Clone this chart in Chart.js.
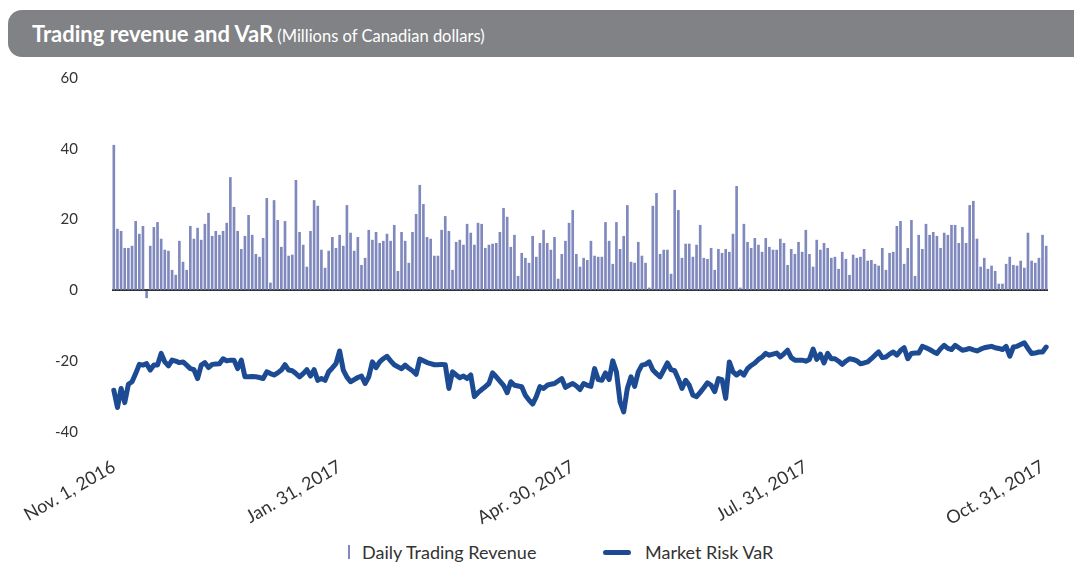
<!DOCTYPE html>
<html>
<head>
<meta charset="utf-8">
<script src="https://cdn.jsdelivr.net/npm/chart.js@4"></script>
<style>
  html, body { margin: 0; padding: 0; background: #fff; overflow: hidden; }
  body { width: 1074px; height: 563px; position: relative; font-family: Lato, "Open Sans", sans-serif; color: #333; }
  .header {
    position: absolute; left: 8px; top: 10px; width: 1090px; height: 47px;
    background: #808285; border-radius: 14px 0 0 14px;
    color: #fff; box-sizing: border-box; padding-left: 24px; line-height: 47px;
  }
  .header b { font-size: 22px; font-weight: 700; }
  .header span { font-size: 16.5px; }
  .chart-box { position: absolute; left: 0; top: 35px; width: 1074px; height: 495px; }
  .legend { position: absolute; top: 540px; left: 0; width: 1074px; height: 24px; font-size: 18px; }
  .legend .mark-bar { position: absolute; left: 348px; top: 5px; width: 2px; height: 14px; background: #8089be; }
  .legend .mark-line { position: absolute; left: 603px; top: 10px; width: 28px; height: 5px; border-radius: 3px; background: #1c4b93; }
  .legend .txt { position: absolute; top: 0; line-height: 24px; }
</style>
</head>
<body>
<div class="header"><b>Trading revenue and VaR</b> <span>(Millions of Canadian dollars)</span></div>
<div class="chart-box"><canvas id="tradingChart"></canvas></div>
<div class="legend">
  <div class="mark-bar"></div><div class="txt" style="left:362px">Daily Trading Revenue</div>
  <div class="mark-line"></div><div class="txt" style="left:645px">Market Risk VaR</div>
</div>
<script>
// Daily trading revenue, one value per trading day (millions CAD)
const revenue = [
    41, 17.3, 16.7, 11.9, 11.9, 12.5, 19.5, 15.9, 18.1, -2.1,
    12.5, 17.8, 19.2, 14.5, 11.4, 11.1, 5.7, 4.3, 13.9, 8.0,
    5.7, 18.1, 14.5, 17.6, 14.2, 18.7, 21.8, 15.3, 16.7, 15.6,
    16.7, 19.0, 31.9, 23.5, 16.7, 11.6, 15.3, 21.2, 15.6, 10.2,
    9.4, 14.7, 26.0, 2.1, 25.4, 19.8, 12.2, 19.5, 9.7, 10.0,
    31.1, 16.4, 12.8, 6.6, 16.7, 25.4, 23.8, 11.4, 6.3, 11.1,
    15.0, 11.9, 15.6, 12.5, 24.0, 16.2, 11.1, 15.0, 7.1, 9.1,
    17.0, 14.2, 16.4, 13.3, 13.9, 15.9, 13.9, 18.4, 5.4, 16.4,
    13.9, 7.7, 16.4, 21.5, 29.7, 24.3, 15.0, 14.5, 9.7, 9.7,
    17.0, 20.9, 16.7, 5.7, 13.6, 14.2, 12.8, 18.7, 16.2, 12.8,
    19.0, 18.7, 11.9, 12.8, 13.1, 13.3, 16.4, 23.2, 20.7, 12.2,
    15.6, 4.0, 10.5, 9.1, 7.7, 15.3, 9.4, 13.3, 17.0, 13.3,
    11.4, 15.0, 3.2, 10.2, 13.9, 19.0, 22.6, 10.2, 6.6, 9.1,
    8.5, 13.9, 9.7, 9.4, 9.4, 19.2, 13.9, 7.4, 19.2, 11.6,
    15.3, 24.0, 8.0, 7.7, 13.6, 9.7, 7.7, 0.7, 23.8, 27.4,
    10.2, 11.4, 11.4, 4.6, 28.3, 22.6, 9.1, 13.1, 13.1, 9.4,
    12.8, 18.4, 9.1, 8.8, 11.9, 5.7, 11.6, 10.5, 11.6, 10.8,
    15.9, 29.4, 0.7, 18.7, 13.6, 11.9, 14.7, 12.8, 10.8, 14.7,
    12.2, 11.4, 11.4, 14.5, 13.3, 7.1, 11.6, 10.2, 13.6, 10.8,
    17.0, 10.2, 6.6, 14.2, 11.4, 13.3, 11.9, 9.1, 9.4, 6.0,
    10.8, 8.8, 4.3, 10.0, 9.1, 9.4, 11.6, 8.3, 8.5, 7.4,
    6.9, 11.9, 5.7, 10.5, 10.8, 18.1, 19.5, 7.4, 11.9, 19.8,
    4.0, 15.6, 11.6, 18.7, 15.6, 16.4, 15.3, 11.9, 16.2, 15.6,
    18.4, 18.4, 13.3, 17.8, 13.3, 24.0, 25.2, 14.5, 6.6, 9.1,
    6.0, 6.9, 5.4, 1.8, 1.8, 7.4, 9.4, 7.1, 6.9, 8.3,
    6.3, 16.2, 8.3, 7.7, 9.1, 15.6, 12.5
];

// Market risk VaR, same trading days
const marketVaR = [
    -28.2, -33.1, -27.7, -31.7, -26.5, -25.8, -23.5, -20.9, -21.1, -20.7,
    -22.5, -21.1, -21.1, -17.8, -20.2, -21.3, -19.7, -20.0, -20.4, -20.2,
    -21.1, -22.1, -22.4, -24.9, -21.1, -20.4, -21.8, -20.9, -20.8, -20.7,
    -19.3, -19.9, -19.7, -19.7, -22.1, -19.7, -24.4, -24.4, -24.3, -24.4,
    -24.6, -24.9, -23.0, -23.5, -23.9, -23.3, -22.5, -21.0, -22.5, -22.7,
    -23.5, -24.4, -23.5, -22.4, -24.2, -22.4, -25.4, -24.9, -25.4, -23.0,
    -21.9, -20.7, -17.1, -22.5, -24.5, -25.8, -25.2, -24.6, -24.2, -26.3,
    -24.4, -20.2, -21.8, -20.2, -19.3, -18.6, -19.9, -21.0, -21.6, -22.1,
    -21.1, -22.0, -22.7, -23.7, -19.4, -19.9, -20.4, -20.7, -21.0, -21.0,
    -20.9, -21.0, -27.7, -23.0, -23.9, -24.7, -24.2, -24.9, -23.9, -30.0,
    -28.9, -28.0, -27.2, -26.3, -23.3, -24.4, -25.6, -26.8, -28.9, -25.8,
    -26.8, -27.0, -27.2, -29.6, -31.0, -32.1, -30.0, -27.2, -27.7, -26.8,
    -26.5, -26.3, -25.6, -24.9, -27.4, -26.8, -26.3, -27.0, -28.0, -26.3,
    -26.8, -27.1, -22.1, -25.2, -25.4, -23.3, -25.2, -19.9, -23.0, -31.5,
    -34.3, -27.7, -24.4, -27.1, -23.0, -21.1, -20.9, -20.2, -22.5, -23.5,
    -24.4, -22.5, -20.5, -22.4, -22.7, -25.0, -27.7, -25.4, -26.8, -29.6,
    -30.0, -28.8, -27.5, -26.1, -26.8, -28.6, -24.9, -25.2, -30.5, -20.2,
    -23.0, -23.9, -23.0, -23.9, -22.1, -21.2, -20.5, -19.5, -18.8, -17.8,
    -18.3, -18.0, -17.7, -18.8, -17.9, -16.9, -19.0, -19.7, -19.7, -19.7,
    -20.0, -19.5, -16.6, -19.5, -18.0, -20.5, -17.8, -19.3, -19.3, -20.0,
    -20.9, -20.0, -19.3, -19.5, -19.9, -20.7, -20.5, -20.2, -19.3, -18.3,
    -17.4, -19.0, -18.8, -18.0, -17.4, -18.3, -17.0, -16.2, -19.3, -17.8,
    -17.7, -17.7, -15.8, -16.2, -16.7, -17.3, -17.8, -16.5, -15.5, -16.4,
    -16.7, -15.5, -16.2, -16.9, -16.7, -16.4, -16.8, -17.1, -16.6, -16.2,
    -16.0, -15.8, -16.2, -16.4, -16.7, -15.8, -18.6, -16.0, -15.8, -15.3,
    -14.8, -16.4, -17.8, -17.7, -17.4, -17.4, -16.0
];

// trading days (category axis) and the dates shown under the axis
const days = revenue.map((_, i) => i);
const tickIndex = [0, 62, 126, 190, 255];
const tickLabels = ['Nov. 1, 2016', 'Jan. 31, 2017', 'Apr. 30, 2017', 'Jul. 31, 2017', 'Oct. 31, 2017'];
const yTicks = [-40, -20, 0, 20, 40, 60];

const ctx = document.getElementById('tradingChart').getContext('2d');
const tradingChart = new Chart(ctx, {
    type: 'bar',
    data: {
        labels: days,
        datasets: [{
            type: 'line',
            label: 'Market Risk VaR',
            data: marketVaR,
            borderColor: '#1c4b93',
            borderWidth: 5,
            pointRadius: 0,
            tension: 0,
            borderJoinStyle: 'round',
            borderCapStyle: 'round'
        }, {
            label: 'Daily Trading Revenue',
            data: revenue,
            backgroundColor: '#8089be',
            barThickness: 2
        }]
    },
    options: {
        responsive: true,
        maintainAspectRatio: false,
        animation: false,
        layout: { padding: { top: 17, right: 26, left: 0, bottom: 0 } },
        plugins: {
            legend: { display: false },
            tooltip: { enabled: false }
        },
        scales: {
            x: {
                grid: { display: false, drawTicks: false },
                border: { display: false },
                afterBuildTicks: s => { s.ticks = tickIndex.map(v => ({ value: v })); },
                afterFit: s => { s.height = 98; s.paddingRight = 0; },
                ticks: {
                    autoSkip: false,
                    minRotation: 30,
                    maxRotation: 30,
                    padding: 24,
                    color: '#333',
                    font: { family: 'Lato', size: 18 },
                    callback: v => tickLabels[tickIndex.indexOf(v)]
                }
            },
            y: {
                min: -40,
                max: 60,
                afterBuildTicks: s => { s.ticks = yTicks.map(v => ({ value: v })); },
                afterFit: s => { s.width = 112; },
                grid: {
                    drawTicks: false,
                    lineWidth: 2,
                    color: c => c.tick && c.tick.value === 0 ? '#333' : 'rgba(0,0,0,0)'
                },
                border: { display: false },
                ticks: {
                    padding: 34,
                    color: '#333',
                    font: { family: 'Lato', size: 15 }
                }
            }
        }
    }
});
</script>
</body>
</html>
